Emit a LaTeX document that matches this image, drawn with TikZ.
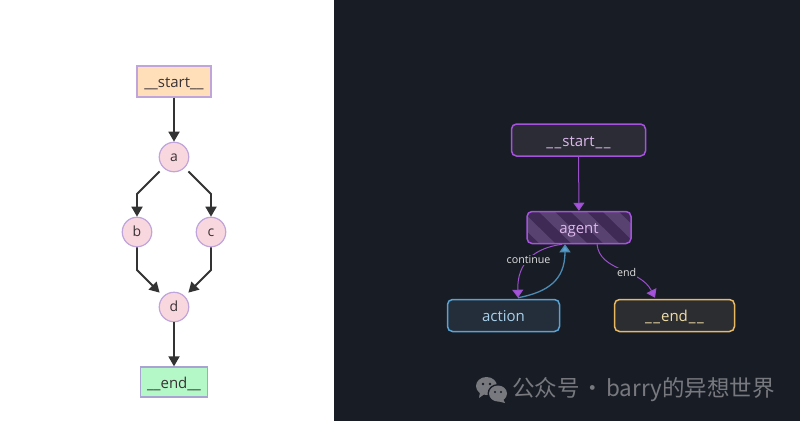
\documentclass[tikz,border=0pt]{standalone}
\usepackage{fontspec}
\setmainfont{Open Sans}
\newfontfamily\cjkfont{Noto Sans CJK SC}
\usetikzlibrary{arrows.meta,calc}
\definecolor{darkbg}{HTML}{181C25}
\definecolor{lstart}{HTML}{FFDFBA}
\definecolor{lnode}{HTML}{F9D7DE}
\definecolor{lend}{HTML}{B4F8C8}
\definecolor{lborder}{HTML}{BFA5DC}
\definecolor{lendborder}{HTML}{A8A3D2}
\definecolor{ltext}{HTML}{3A3335}
\definecolor{larrow}{HTML}{333333}
\definecolor{purp}{HTML}{A552DC}
\definecolor{purpline}{HTML}{9A4FCB}
\definecolor{bluel}{HTML}{5AA2D2}
\definecolor{gold}{HTML}{E8B962}
\definecolor{stext}{HTML}{DDB8EC}
\definecolor{atext}{HTML}{A9D0EA}
\definecolor{etext}{HTML}{EFDCA6}
\definecolor{wmark}{HTML}{77797F}
\definecolor{dstartfill}{HTML}{2C2C37}
\definecolor{actionfill}{HTML}{242D3A}
\definecolor{endfill}{HTML}{2C2D31}
\definecolor{agentbase}{HTML}{3E2A54}
\definecolor{agentstripe}{HTML}{584270}
\newcommand{\dus}{\_\hspace{1.6pt}\_}
\tikzset{
  lbox/.style={draw, line width=1.3pt, inner sep=0pt, text=ltext, text depth=0pt, font=\fontsize{15}{17}\selectfont},
  lcirc/.style={circle, draw=lborder, fill=lnode, line width=1.2pt, inner sep=0pt, minimum size=29.5pt, text=ltext, text height=9.4pt, text depth=0pt, font=\fontsize{14}{16}\selectfont},
  larr/.style={draw=larrow, line width=1.8pt, -{Triangle[width=11pt,length=10pt]}, line join=miter},
  dbox/.style={draw, rounded corners=5pt, line width=1.5pt, inner sep=0pt, minimum height=32pt, text depth=0pt, font=\fontsize{15}{17}\selectfont},
  darr/.style={line width=1pt},
  elabel/.style={fill=darkbg, text=white!88!black, inner sep=1pt, font=\fontsize{10.7}{12}\selectfont},
}
\begin{document}
\begin{tikzpicture}[x=1pt,y=-1pt]
\useasboundingbox (0,0) rectangle (800,421);
\fill[white] (0,0) rectangle (334,421);
\fill[darkbg] (334,0) rectangle (800,421);

% left graph
\node[lbox, draw=lborder, fill=lstart, minimum width=74pt, minimum height=31pt, text height=11pt] (lstartn) at (174,81.5) {\_\_start\_\_};
\node[lcirc] (a) at (174,157) {a};
\node[lcirc] (b) at (137,232) {b};
\node[lcirc] (c) at (211,232) {c};
\node[lcirc] (d) at (174,307) {d};
\node[lbox, draw=lendborder, fill=lend, minimum width=67pt, minimum height=30pt, text height=12pt] (lendn) at (174,382) {\_\_end\_\_};
\coordinate (ab) at (137,194);
\coordinate (ac) at (211,194);
\coordinate (bd) at (137,270);
\coordinate (cd) at (211,270);
\draw[larr] (lstartn) -- (a);
\draw[larr, shorten <=5pt] (a.225) -- (ab) -- (b);
\draw[larr, shorten <=5pt] (a.315) -- (ac) -- (c);
\draw[larr, shorten >=5pt] (b) -- (bd) -- (d.135);
\draw[larr, shorten >=5pt] (c) -- (cd) -- (d.45);
\draw[larr] (d) -- (lendn);

% right graph
\node[dbox, draw=purp, fill=dstartfill, minimum width=134pt, text=stext, text height=12pt] (dstart) at (578.5,140) {\dus\hspace{1pt}start\hspace{1pt}\dus};
\begin{scope}
  \clip[rounded corners=5pt] (527,211) rectangle (631,244);
  \fill[agentbase] (527,211) rectangle (631,244);
  \foreach \s in {500,532,564,596,628}
    \fill[agentstripe] (\s,205) -- (\s+16,205) -- (\s+62,250) -- (\s+46,250) -- cycle;
\end{scope}
\node[dbox, draw=purp, minimum width=104pt, text=stext, text height=12pt] (agent) at (579,227.5) {agent};
\node[dbox, draw=bluel, fill=actionfill, minimum width=112pt, text=atext, text height=11pt] (action) at (503.5,315.5) {action};
\node[dbox, draw=gold, fill=endfill, minimum width=120pt, text=etext, text height=11pt] (dend) at (674.5,315.5) {\dus\hspace{1pt}end\hspace{1pt}\dus};

\draw[darr, draw=purpline, -{Triangle[width=11pt,length=8pt,fill=purp]}] (dstart) -- (agent);
\coordinate (contA) at ($(agent.south)+(-17,0)$);
\coordinate (contB) at ($(action.north)+(14.5,-1)$);
\coordinate (backA) at ($(action.north)+(14.5,-1)$);
\coordinate (backB) at ($(agent.south)+(-14,0)$);
\coordinate (endA) at ($(agent.south)+(18,0)$);
\coordinate (endB) at ($(dend.north)+(-19.5,-1)$);
\draw[darr, draw=purpline, -{Triangle[width=11pt,length=8pt,fill=purp]}] (contA) .. controls (535,248) and (517,262) .. (contB)
  node[pos=0.52, elabel] (lblcont) {continue};
\draw[darr, line width=1.3pt, draw=bluel!85!black, -{Triangle[width=11pt,length=8pt,fill=bluel]}] (backA) .. controls (548,292) and (565,280) .. (backB);
\draw[darr, draw=purpline, -{Triangle[width=11pt,length=8pt,fill=purp]}] (endA) .. controls (600,272) and (640,268) .. (endB)
  node[pos=0.57, elabel] (lblend) {end};

% watermark
\begin{scope}[wmark]
  \fill (486.5,386) ellipse [x radius=10.5pt, y radius=9pt];
  \fill (480,392) -- (479,398) -- (486,393) -- cycle;
  \fill[darkbg] (498,393.5) ellipse [x radius=10.5pt, y radius=9.5pt];
  \fill (498,393.5) ellipse [x radius=9pt, y radius=8pt];
  \fill (503,399) -- (505,403) -- (497,401) -- cycle;
  \fill[darkbg] (483,384) circle (1.4pt) (490,384) circle (1.4pt);
  \fill[darkbg] (495,392) circle (1.2pt) (501,392) circle (1.2pt);
\end{scope}
\node[anchor=west, inner sep=0pt, text=wmark, font=\cjkfont\fontsize{22.5}{26}\selectfont] (wm) at (512,390) {公众号\hspace{-3pt} · \hspace{-3pt}barry的异想世界};
\end{tikzpicture}
\end{document}
